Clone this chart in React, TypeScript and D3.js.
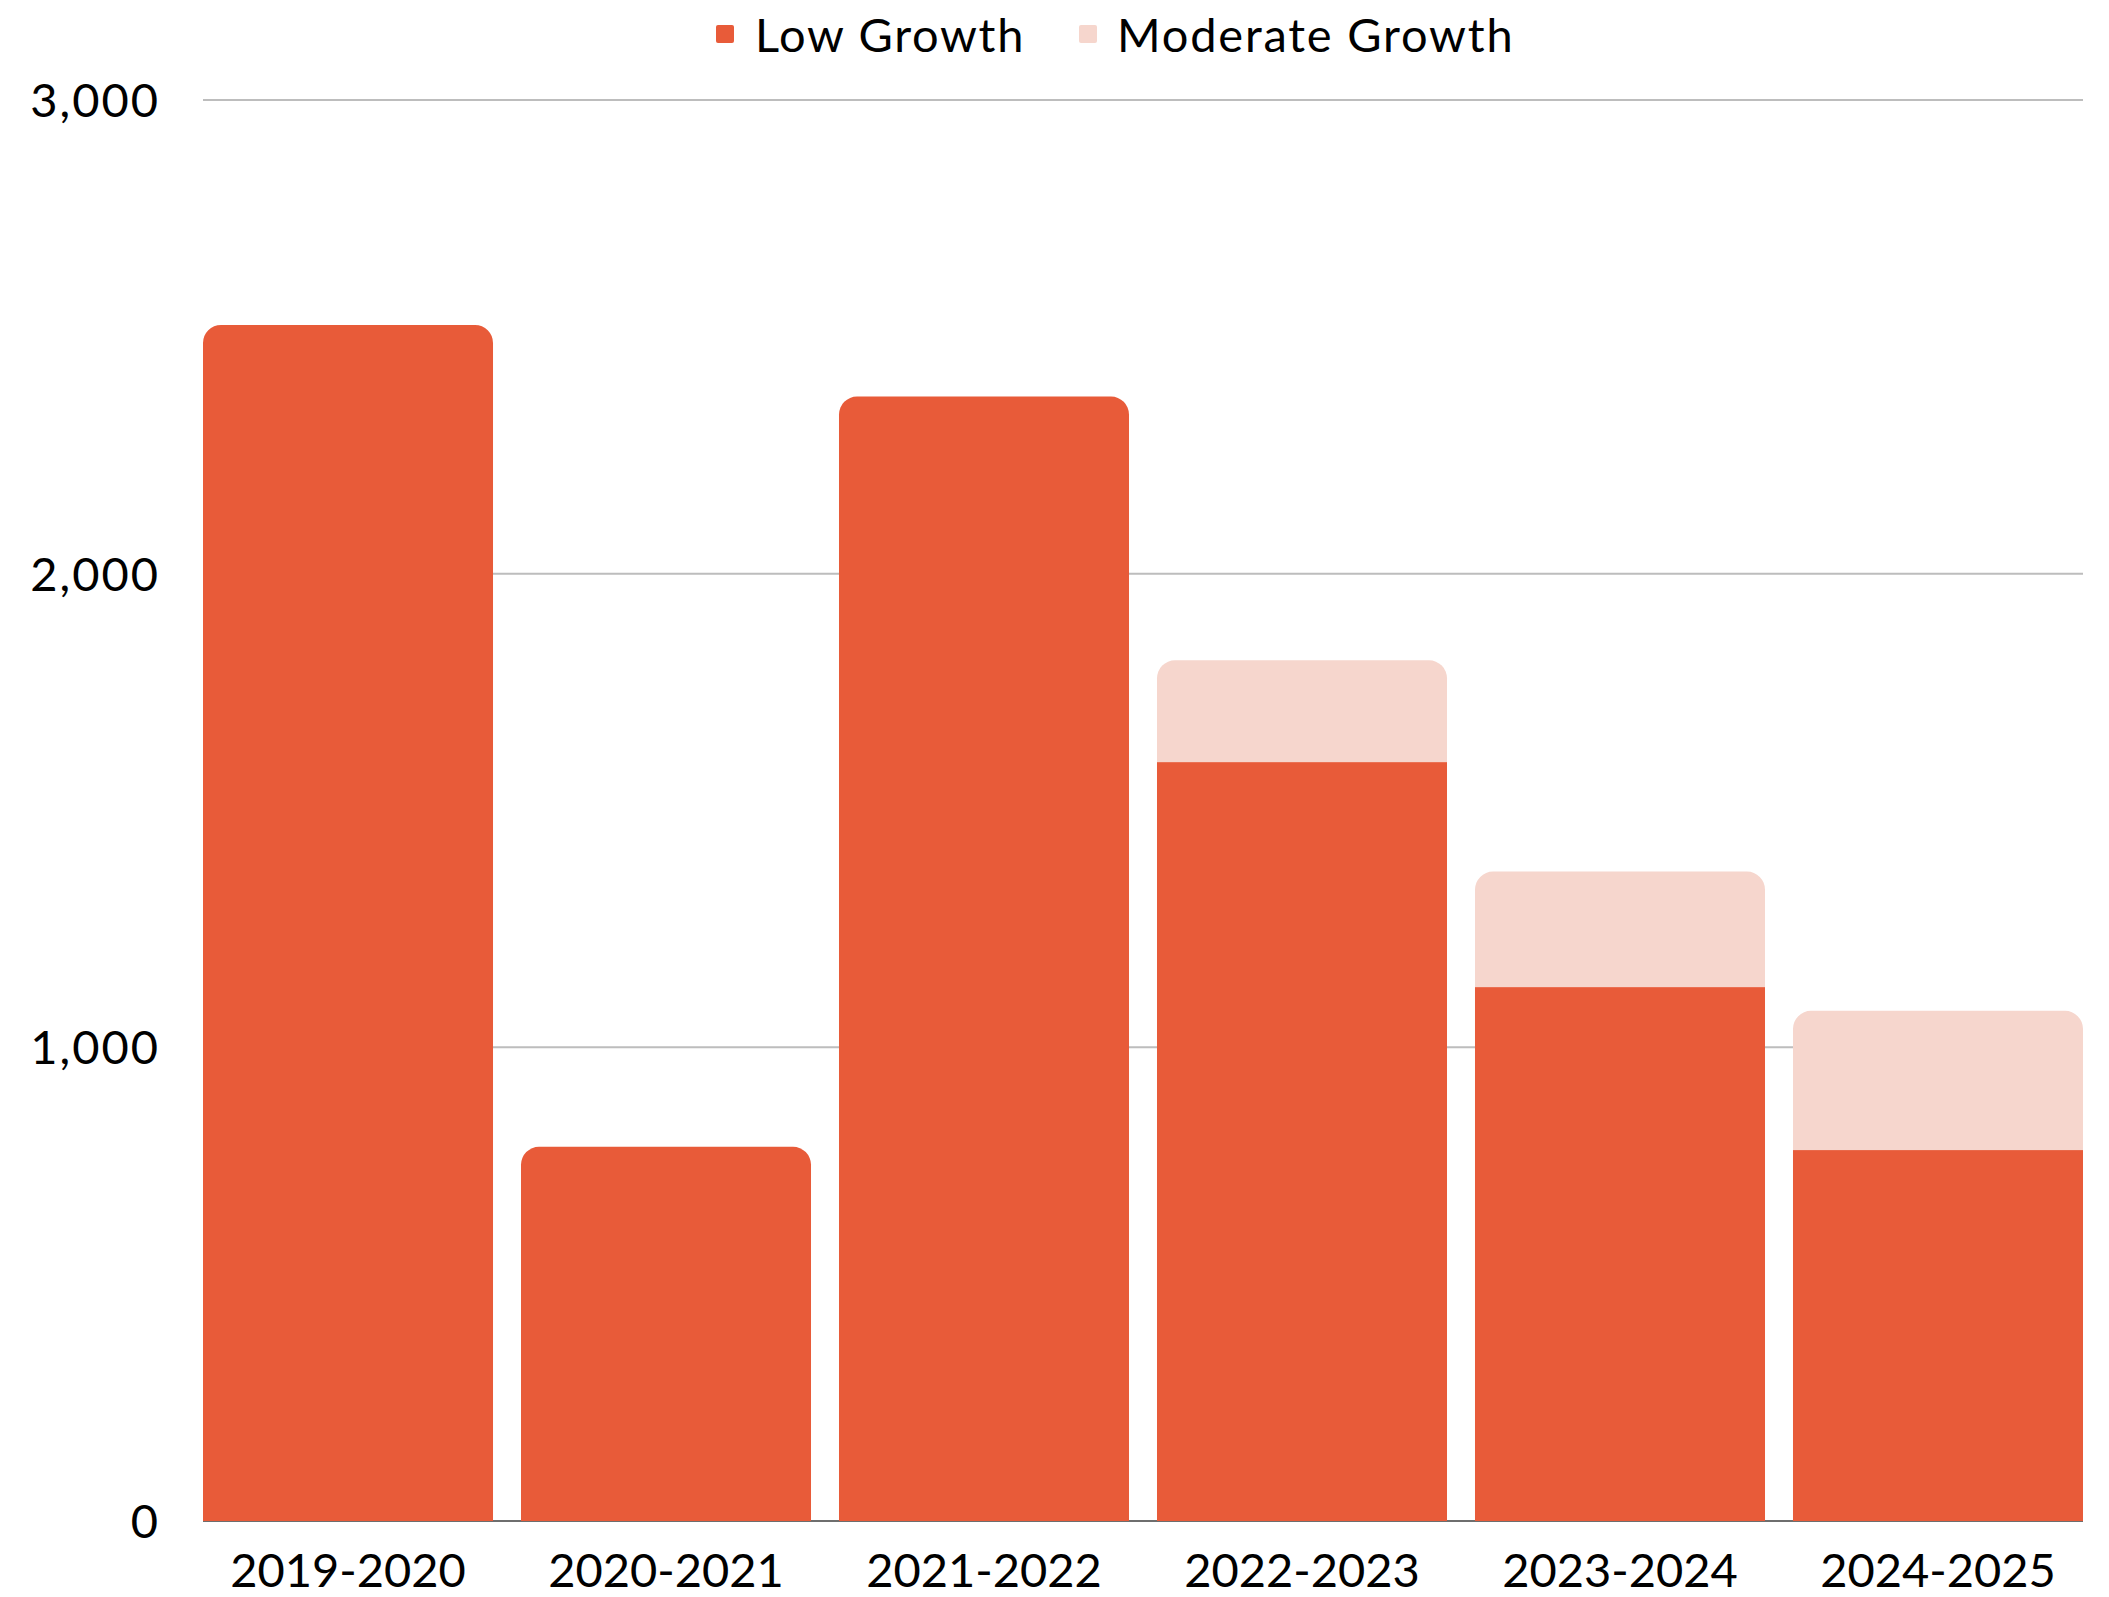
import React from "react";
import * as d3 from "d3";

const categories = ["2019-2020", "2020-2021", "2021-2022", "2022-2023", "2023-2024", "2024-2025"];
const lowGrowth = [2525, 790, 2374, 1602, 1127, 783];
const moderateGrowth = [0, 0, 0, 215, 244, 294];
const yTicks = [0, 1000, 2000, 3000];
const seriesNames = ["Low Growth", "Moderate Growth"];
const seriesColors = ["#E85B39", "#F6D6CD"];

const W = 2109;
const H = 1597;
const left = 203;
const right = 2083;
const top = 100;
const bottom = 1521;
const FONT = "Lato, 'Open Sans', sans-serif";
const FS = 47;

function roundedTop(x: number, y: number, w: number, h: number, r: number) {
  const rr = Math.min(r, h, w / 2);
  return `M${x},${y + h}V${y + rr}A${rr},${rr} 0 0 1 ${x + rr},${y}H${x + w - rr}A${rr},${rr} 0 0 1 ${x + w},${y + rr}V${y + h}Z`;
}

export default function App() {
  const x = d3.scaleBand<string>().domain(categories).range([left, right]).paddingInner(0.088).paddingOuter(0);
  const y = d3.scaleLinear().domain([0, 3000]).range([bottom, top]);
  const bw = x.bandwidth();
  const fmt = d3.format(",");
  const r = 18;

  return (
    <svg width={W} height={H} style={{ position: "absolute", left: 0, top: 0, background: "#fff" }} fontFamily={FONT}>
      <rect x={0} y={0} width={W} height={H} fill="#fff" />
      {/* gridlines */}
      {yTicks.filter((t) => t > 0).map((t) => (
        <line key={t} x1={left} x2={right} y1={y(t)} y2={y(t)} stroke="#BDBDBD" strokeWidth={2} />
      ))}
      {/* baseline */}
      <line x1={left} x2={right} y1={y(0)} y2={y(0)} stroke="#6E6E6E" strokeWidth={2} />
      {/* y labels */}
      {yTicks.map((t) => (
        <text key={t} x={160} y={y(t)} dy="0.36em" textAnchor="end" fontSize={FS} letterSpacing={2} fill="#000">
          {fmt(t)}
        </text>
      ))}
      {/* bars */}
      {categories.map((c, i) => {
        const x0 = x(c) as number;
        const low = lowGrowth[i];
        const mod = moderateGrowth[i];
        const yLow = y(low);
        const yTot = y(low + mod);
        return (
          <g key={c}>
            {mod > 0 ? (
              <>
                <path d={roundedTop(x0, yTot, bw, y(0) - yTot, r)} fill={seriesColors[1]} />
                <rect x={x0} y={yLow} width={bw} height={y(0) - yLow} fill={seriesColors[0]} />
              </>
            ) : (
              <path d={roundedTop(x0, yLow, bw, y(0) - yLow, r)} fill={seriesColors[0]} />
            )}
          </g>
        );
      })}
      {/* x labels */}
      {categories.map((c) => (
        <text key={c} x={(x(c) as number) + bw / 2} y={1587} textAnchor="middle" fontSize={FS} fill="#000">
          {c}
        </text>
      ))}
      {/* legend */}
      <g>
        <rect x={716} y={25} width={18} height={18} rx={2} fill={seriesColors[0]} />
        <text x={755} y={52} fontSize={FS} letterSpacing={1.7} fill="#000">{seriesNames[0]}</text>
        <rect x={1079} y={25} width={18} height={18} rx={2} fill={seriesColors[1]} />
        <text x={1117} y={52} fontSize={FS} letterSpacing={1.8} fill="#000">{seriesNames[1]}</text>
      </g>
    </svg>
  );
}
